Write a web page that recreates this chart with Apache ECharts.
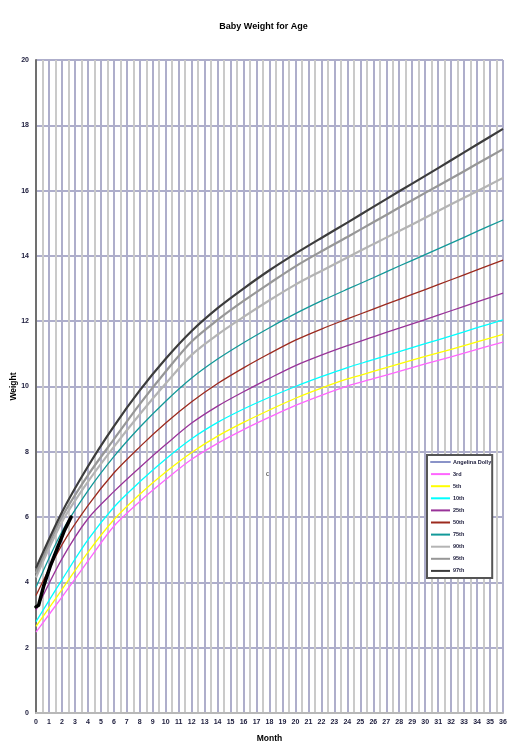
<!DOCTYPE html>
<html lang="en" style="height: 100%">
<head>
  <meta charset="utf-8">
</head>
<body style="height: 100%; margin: 0; background: #fff">
  <div id="container" style="height: 100%"></div>

  <script type="text/javascript" src="https://cdn.jsdelivr.net/npm/echarts@6/dist/echarts.min.js"></script>

  <script type="text/javascript">
    var months = [0, 2, 4, 6, 8, 10, 12, 14, 16, 18, 20, 22, 24, 26, 28, 30, 32, 34, 36];
    var p3  = [2.48, 3.55, 4.65, 5.72, 6.48, 7.15, 7.77, 8.26, 8.68, 9.06, 9.42, 9.73, 10.01, 10.24, 10.46, 10.69, 10.91, 11.14, 11.36];
    var p5  = [2.65, 3.78, 4.92, 5.92, 6.7, 7.38, 7.98, 8.48, 8.9, 9.28, 9.64, 9.95, 10.23, 10.46, 10.69, 10.92, 11.14, 11.37, 11.6];
    var p10 = [2.8, 4.08, 5.3, 6.3, 7.08, 7.78, 8.4, 8.9, 9.31, 9.67, 10.0, 10.3, 10.58, 10.82, 11.07, 11.31, 11.55, 11.8, 12.04];
    var p25 = [3.15, 4.72, 5.95, 6.78, 7.52, 8.22, 8.88, 9.4, 9.84, 10.25, 10.64, 10.96, 11.25, 11.52, 11.79, 12.05, 12.32, 12.59, 12.86];
    var p50 = [3.6, 5.15, 6.35, 7.35, 8.15, 8.88, 9.53, 10.09, 10.57, 11.01, 11.42, 11.76, 12.07, 12.37, 12.67, 12.97, 13.27, 13.57, 13.87];
    var p75 = [3.85, 5.55, 6.8, 7.85, 8.75, 9.55, 10.26, 10.84, 11.34, 11.8, 12.23, 12.62, 12.98, 13.33, 13.69, 14.04, 14.39, 14.75, 15.1];
    var p90 = [4.15, 5.85, 7.08, 8.15, 9.15, 10.09, 10.97, 11.59, 12.13, 12.64, 13.12, 13.54, 13.95, 14.36, 14.76, 15.17, 15.58, 15.98, 16.39];
    var p95 = [4.28, 6.0, 7.28, 8.38, 9.46, 10.46, 11.38, 12.04, 12.62, 13.16, 13.68, 14.14, 14.58, 15.03, 15.48, 15.93, 16.37, 16.82, 17.27];
    var p97 = [4.44, 6.15, 7.55, 8.78, 9.88, 10.85, 11.7, 12.4, 13.0, 13.56, 14.07, 14.55, 15.02, 15.5, 15.98, 16.45, 16.93, 17.41, 17.89];

    // the baby's own measurements
    var dollyMonths = [0, 0.2, 0.6, 1.1, 1.7, 2.2, 2.7];
    var dollyWeight = [3.25, 3.3, 3.9, 4.5, 5.1, 5.6, 6.0];

    var names = ['3rd', '5th', '10th', '25th', '50th', '75th', '90th', '95th', '97th'];
    var curves = [p3, p5, p10, p25, p50, p75, p90, p95, p97];
    var colors = ['#ff66ff', '#ffff00', '#00ffff', '#993399', '#9c2a1e', '#129999', '#b4b4b4', '#979797', '#3c3c3c'];
    var widths = [1.3, 1.3, 1.3, 1.3, 1.3, 1.3, 2.2, 2.2, 2.2];

    function pairs(xs, ys) {
      return xs.map(function (x, i) { return [x, ys[i]]; });
    }

    var dom = document.getElementById('container');
    var myChart = echarts.init(dom, null, { renderer: 'canvas' });

    var tickFont = {
      fontFamily: 'Liberation Sans Narrow, Arial Narrow, Liberation Sans, sans-serif',
      fontWeight: 'bold',
      fontSize: 7,
      color: '#1a1a3a'
    };

    var series = curves.map(function (c, i) {
      return {
        name: names[i],
        type: 'line',
        data: pairs(months, c),
        symbol: 'none',
        smooth: 0.3,
        lineStyle: { color: colors[i], width: widths[i] },
        itemStyle: { color: colors[i] },
        z: 3
      };
    });
    series.push({
      name: 'Angelina Dolly',
      type: 'line',
      data: pairs(dollyMonths, dollyWeight),
      symbol: 'none',
      lineStyle: { color: '#000', width: 3.5, cap: 'round', join: 'round' },
      itemStyle: { color: '#000' },
      z: 5
    });

    var legendData = [{ name: 'Angelina Dolly', lineStyle: { color: '#8a93c8', width: 2 } }]
      .concat(names.map(function (n) { return { name: n }; }));

    var option = {
      backgroundColor: '#fff',
      animation: false,
      title: {
        text: 'Baby Weight for Age',
        left: 'center',
        top: 17,
        textStyle: { fontFamily: 'Liberation Sans, Arial, sans-serif', fontSize: 9, fontWeight: 'bold', color: '#000' }
      },
      grid: { left: 36, right: 24, top: 60, bottom: 39, containLabel: false, outerBoundsMode: 'none' },
      legend: {
        data: legendData,
        orient: 'vertical',
        left: 427,
        top: 455,
        itemWidth: 19,
        itemHeight: 6,
        itemGap: 6.1,
        padding: [4, 1, 4, 3],
        borderColor: '#555',
        borderWidth: 2,
        backgroundColor: '#fff',
        itemStyle: { opacity: 0 },
        textStyle: {
          fontFamily: 'Liberation Sans Narrow, Arial Narrow, sans-serif',
          fontWeight: 'bold',
          fontSize: 5.5,
          color: '#1a1a3a',
          padding: [0, 0, 0, -2]
        }
      },
      xAxis: {
        type: 'value',
        min: 0,
        max: 36,
        interval: 1,
        name: 'Month',
        nameLocation: 'middle',
        nameGap: 21,
        nameMoveOverlap: false,
        nameTextStyle: { fontFamily: 'Liberation Sans, Arial, sans-serif', fontWeight: 'bold', fontSize: 8.5, color: '#000' },
        axisLine: { show: true, lineStyle: { color: '#b8b8b8', width: 2 } },
        axisTick: { show: false },
        axisLabel: Object.assign({ margin: 6 }, tickFont),
        splitLine: { show: true, lineStyle: { color: '#aeaecb', width: 2 } },
        minorTick: { show: false, splitNumber: 2 },
        minorSplitLine: { show: true, lineStyle: { color: '#cacaca', width: 2 } }
      },
      yAxis: {
        type: 'value',
        min: 0,
        max: 20,
        interval: 2,
        name: 'Weight',
        nameLocation: 'middle',
        nameRotate: 90,
        nameGap: 18,
        nameMoveOverlap: false,
        nameTextStyle: { fontFamily: 'Liberation Sans, Arial, sans-serif', fontWeight: 'bold', fontSize: 8.5, color: '#000' },
        axisLine: { show: true, lineStyle: { color: '#707070', width: 2 } },
        axisTick: { show: false },
        axisLabel: Object.assign({ margin: 7 }, tickFont),
        splitLine: { show: true, lineStyle: { color: '#aeaecb', width: 2 } }
      },
      graphic: [{
        type: 'text',
        left: 266,
        top: 470,
        style: { text: 'd', fontFamily: 'Liberation Sans, Arial, sans-serif', fontSize: 7.5, fill: '#333' }
      }],
      series: series
    };

    myChart.setOption(option);
    window.addEventListener('resize', myChart.resize);
  </script>
</body>
</html>
